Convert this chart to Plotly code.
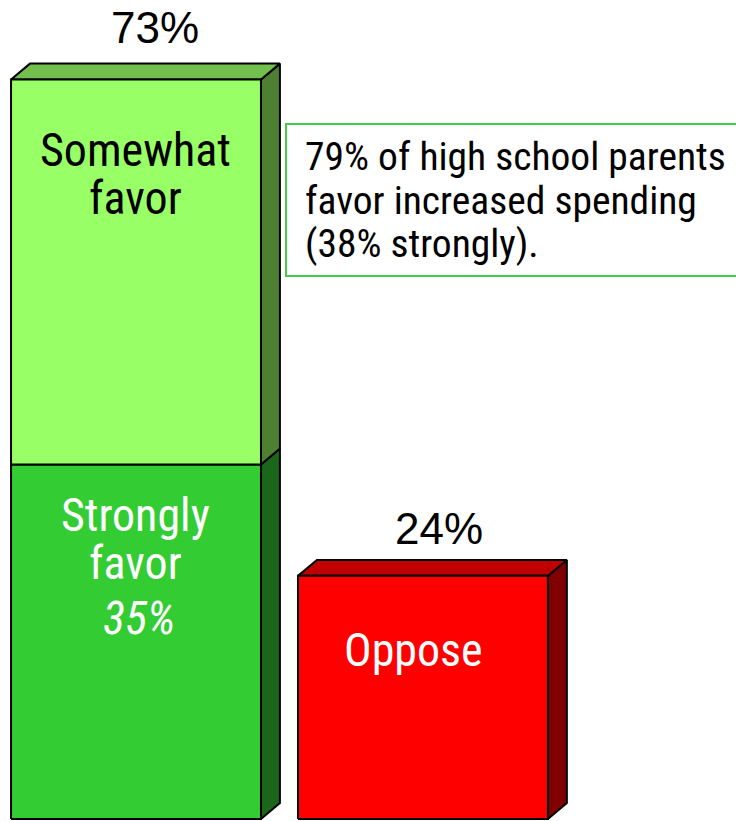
import plotly.graph_objects as go

# Survey results: support for increased spending
bar_names = ["Favor", "Oppose"]
strongly_favor = 35
somewhat_favor = 38
oppose = 24
favor_total = strongly_favor + somewhat_favor
top_labels = [f"{favor_total}%", f"{oppose}%"]
box_lines = ["79% of high school parents", "favor increased spending", "(38% strongly)."]

W, H = 736, 821
NARROW = "Roboto Condensed, sans-serif"
REGULAR = "Liberation Sans, Arial, sans-serif"

# bar geometry (x in category units, y in percent)
BAR_W = 0.871
DX = 0.066      # depth offset along x
DY = 1.57       # depth offset along y
X_RANGE = [-0.474, 2.091]
Y_RANGE = [-0.2, 80.85]


def px(x):
    return x / W


def py(y):
    return 1 - y / H


fig = go.Figure()


def poly(xs, ys, fill):
    fig.add_trace(go.Scatter(
        x=xs + [xs[0]], y=ys + [ys[0]], mode="lines", fill="toself",
        fillcolor=fill, line=dict(color="black", width=2),
        hoverinfo="skip", showlegend=False))


def block(xc, y0, y1, front, side, top=None):
    xl, xr = xc - BAR_W / 2, xc + BAR_W / 2
    # side face
    poly([xr, xr + DX, xr + DX, xr], [y0, y0 + DY, y1 + DY, y1], side)
    # top face
    if top is not None:
        poly([xl, xr, xr + DX, xl + DX], [y1, y1, y1 + DY, y1 + DY], top)
    # front face
    poly([xl, xr, xr, xl], [y0, y0, y1, y1], front)


# favour column: strongly (bottom) + somewhat (top)
block(0, 0, strongly_favor, "#33CC33", "#1A661A")
block(0, strongly_favor, favor_total, "#99FF66", "#4E8032", "#73BF4D")
# oppose column
block(1, 0, oppose, "#FF0000", "#800000", "#C00000")

ann = []


def text(x, y, s, size, color="black", family=NARROW, anchor="center", italic=False):
    ann.append(dict(
        x=px(x), y=py(y), xref="paper", yref="paper", text=s, showarrow=False,
        xanchor=anchor, yanchor="middle",
        font=dict(family=family, size=size, color=color,
                  style="italic" if italic else "normal")))


# totals above columns
text(155, 28, top_labels[0], 44, family=REGULAR)
text(439, 528, top_labels[1], 44, family=REGULAR)

# labels inside the segments
text(135, 150, "Somewhat", 46)
text(135, 198, "favor", 46)
text(135, 515, "Strongly", 46, color="white")
text(135, 563, "favor", 46, color="white")
text(139, 618, f"{strongly_favor}%", 46, color="white", italic=True)
text(413, 650, "Oppose", 46, color="white")

# callout box
for i, line in enumerate(box_lines):
    text(303, 157 + 43 * i, line, 39.5, anchor="left")

fig.add_shape(type="rect", xref="paper", yref="paper",
              x0=px(286), x1=px(745), y0=py(276), y1=py(124),
              line=dict(color="#44CC44", width=2), fillcolor="rgba(0,0,0,0)")

fig.update_layout(
    width=W, height=H, margin=dict(l=0, r=0, t=0, b=0),
    paper_bgcolor="white", plot_bgcolor="white",
    xaxis=dict(range=X_RANGE, visible=False, fixedrange=True),
    yaxis=dict(range=Y_RANGE, visible=False, fixedrange=True),
    annotations=ann, showlegend=False)

fig.write_html("out.html")
